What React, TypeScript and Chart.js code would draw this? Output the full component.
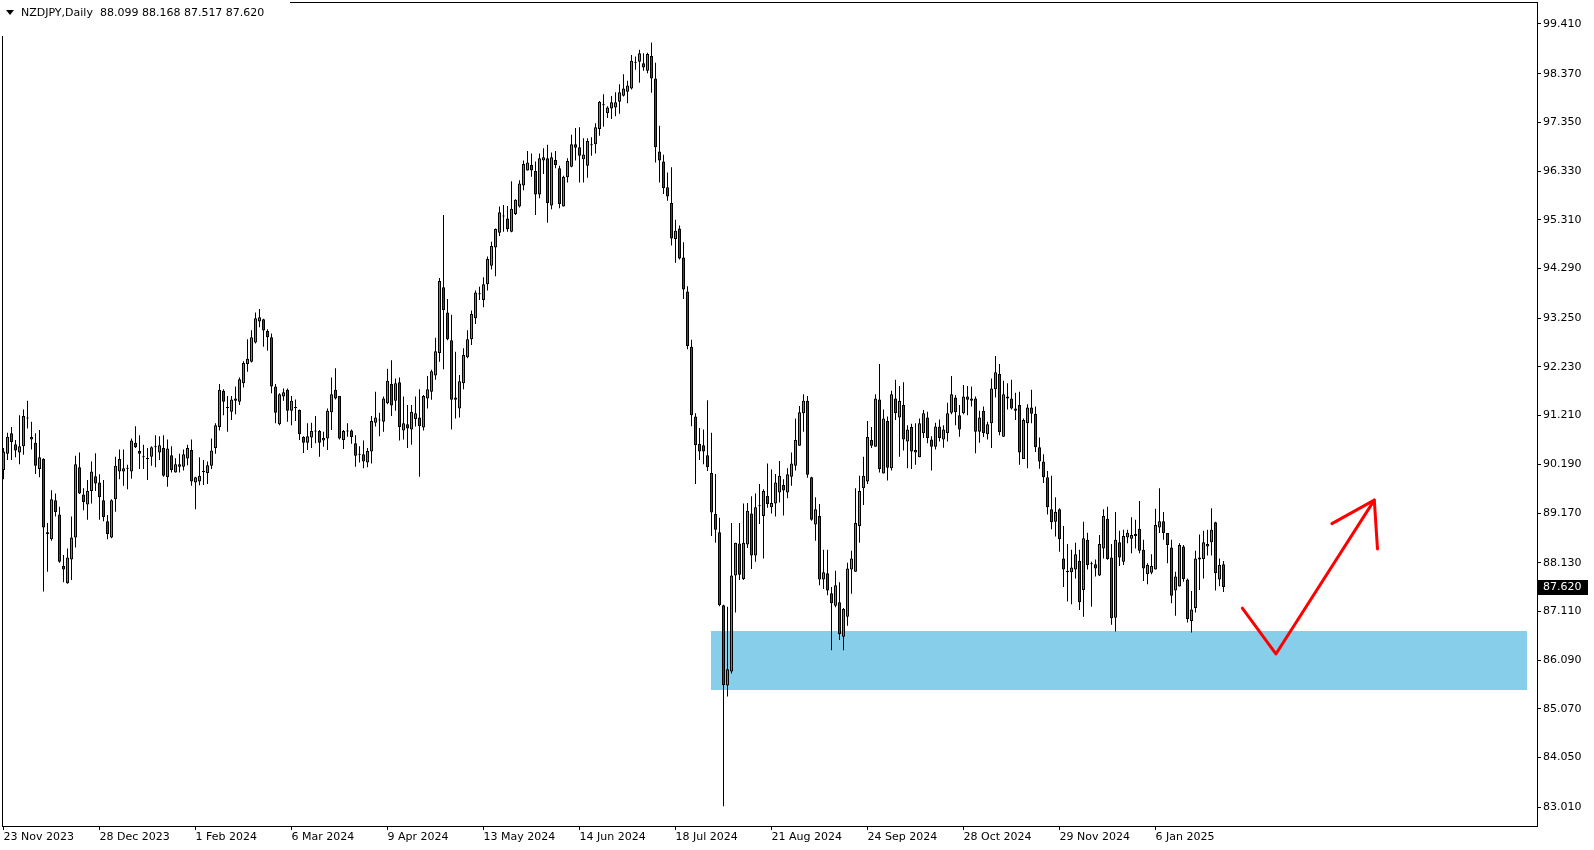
import React, { useEffect, useRef } from 'react';
import { Chart, registerables } from 'chart.js';

Chart.register(...registerables);

const symbolName = 'NZDJPY,Daily';

const opens = [
  90.07, 90.41, 90.84, 90.61, 90.44, 90.57, 91.16, 90.76, 90.64, 90.09,
  90.30, 88.77, 88.62, 89.44, 89.14, 88.06, 87.70, 88.20, 88.66, 90.13,
  89.56, 89.35, 89.63, 89.94, 89.81, 89.44, 89.00, 88.66, 89.46, 90.04,
  90.04, 90.10, 90.04, 90.64, 90.47, 90.36, 90.32, 90.35, 90.55, 90.44,
  90.53, 89.92, 90.38, 90.02, 90.14, 90.14, 90.31, 90.49, 89.81, 89.83,
  90.03, 90.01, 90.16, 90.53, 90.97, 91.73, 91.37, 91.29, 91.52, 91.50,
  91.89, 92.29, 92.34, 92.74, 93.18, 93.23, 92.98, 92.85, 91.82, 91.03,
  91.61, 91.75, 91.31, 91.37, 91.33, 90.77, 90.64, 90.75, 90.88, 90.89,
  90.69, 90.73, 91.28, 91.75, 91.62, 90.70, 90.88, 90.90, 90.63, 90.39,
  90.40, 90.23, 90.46, 91.06, 91.11, 91.08, 91.47, 91.87, 91.52, 91.91,
  90.90, 91.03, 90.92, 91.14, 91.17, 90.96, 91.57, 91.71, 92.05, 92.52,
  93.90, 93.37, 92.79, 91.54, 91.36, 91.89, 92.43, 92.81, 93.25, 93.75,
  93.63, 93.96, 94.35, 94.73, 95.04, 95.38, 95.34, 95.06, 95.43, 95.59,
  96.03, 96.34, 96.46, 96.33, 95.84, 96.55, 96.60, 95.61, 96.56, 96.39,
  95.59, 96.20, 96.42, 96.89, 96.83, 96.58, 96.44, 96.87, 96.89, 97.21,
  97.71, 97.54, 97.64, 97.66, 97.78, 97.91, 97.99, 98.06, 98.60, 98.62,
  98.59, 98.43, 98.74, 98.27, 96.74, 96.53, 95.99, 95.66, 94.91, 95.13,
  94.52, 93.81, 92.65, 91.19, 90.62, 90.59, 90.38, 90.01, 89.15, 88.77,
  87.24, 85.56, 85.85, 87.86, 88.53, 87.79, 88.51, 89.16, 88.28, 89.31,
  89.11, 89.53, 89.29, 89.37, 89.60, 89.76, 89.60, 89.93, 90.16, 90.58,
  91.26, 91.52, 89.92, 88.93, 89.11, 87.78, 87.91, 87.49, 87.23, 87.30,
  86.58, 87.00, 87.99, 87.94, 88.90, 89.69, 89.83, 90.70, 90.56, 91.55,
  90.00, 91.10, 90.11, 91.57, 91.17, 91.43, 90.67, 90.97, 90.44, 90.34,
  90.84, 91.17, 90.71, 90.56, 90.98, 90.71, 90.84, 91.27, 91.59, 91.22,
  91.26, 91.61, 91.52, 91.57, 90.87, 91.31, 90.82, 91.05, 91.76, 92.08,
  90.77, 91.57, 91.57, 91.36, 91.43, 90.30, 91.05, 91.38, 91.25, 90.55,
  90.25, 89.92, 89.25, 88.99, 89.25, 88.22, 87.96, 87.93, 87.99, 88.17,
  87.56, 88.61, 88.11, 88.10, 87.86, 88.43, 89.05, 88.24, 86.98, 88.56,
  88.15, 88.66, 88.63, 88.69, 88.84, 88.40, 87.89, 87.92, 87.99, 88.87,
  89.00, 88.75, 88.45, 87.55, 87.63, 88.47, 87.78, 86.91, 87.18, 88.20,
  88.21, 88.47, 88.56, 88.98, 87.78, 88.099,
];

const highs = [
  90.53, 90.85, 90.97, 90.70, 91.22, 91.34, 91.52, 91.08, 90.84, 90.91,
  90.32, 88.96, 89.65, 89.58, 89.30, 88.29, 88.43, 89.10, 90.37, 90.44,
  89.69, 89.86, 90.25, 90.42, 89.98, 89.86, 89.13, 89.46, 90.35, 90.50,
  90.50, 90.18, 90.73, 90.99, 90.80, 90.60, 90.53, 90.57, 90.80, 90.78,
  90.80, 90.71, 90.57, 90.32, 90.41, 90.50, 90.60, 90.71, 89.93, 90.34,
  90.28, 90.25, 90.73, 91.05, 91.87, 91.76, 91.62, 91.62, 91.82, 92.01,
  92.35, 92.81, 93.00, 93.37, 93.44, 93.24, 93.02, 92.93, 91.87, 91.68,
  91.78, 91.78, 91.62, 91.55, 91.34, 90.78, 91.05, 91.06, 91.20, 90.91,
  90.87, 91.36, 92.01, 92.20, 91.62, 90.91, 91.05, 90.92, 90.80, 90.57,
  90.69, 90.53, 91.20, 91.71, 91.27, 91.61, 92.19, 92.37, 91.99, 92.01,
  91.61, 91.43, 91.43, 91.61, 91.76, 91.64, 92.04, 92.17, 92.84, 94.09,
  95.41, 93.65, 93.32, 92.55, 92.06, 92.62, 93.00, 93.41, 93.83, 93.91,
  94.11, 94.54, 94.85, 95.13, 95.59, 95.62, 95.60, 96.12, 95.74, 96.14,
  96.55, 96.75, 96.70, 96.53, 96.70, 96.81, 96.88, 96.72, 96.75, 96.44,
  96.23, 96.60, 97.09, 97.23, 97.25, 97.02, 97.02, 97.04, 97.33, 97.80,
  97.94, 97.69, 97.90, 97.98, 98.15, 98.36, 98.22, 98.76, 98.73, 98.87,
  98.80, 98.81, 99.02, 98.60, 97.28, 96.67, 96.30, 96.41, 95.31, 95.19,
  94.84, 93.92, 92.80, 91.26, 90.95, 90.92, 91.53, 90.85, 89.99, 89.07,
  87.25, 87.21, 88.96, 88.55, 88.96, 89.37, 89.38, 89.52, 89.58, 89.78,
  89.67, 90.21, 90.08, 89.99, 90.26, 89.88, 90.11, 90.44, 91.15, 91.41,
  91.66, 91.62, 89.93, 89.50, 89.36, 88.40, 88.40, 87.62, 87.96, 87.72,
  87.18, 88.13, 88.38, 89.69, 89.95, 90.35, 91.10, 90.97, 91.66, 92.29,
  91.34, 91.19, 91.73, 91.96, 91.83, 91.91, 91.01, 91.04, 91.05, 91.15,
  91.33, 91.29, 90.78, 91.06, 91.13, 91.01, 91.48, 92.04, 91.64, 91.43,
  91.85, 91.83, 91.82, 91.61, 91.31, 91.40, 91.08, 91.99, 92.46, 92.29,
  91.94, 91.89, 91.96, 91.69, 91.71, 91.15, 91.45, 91.75, 91.40, 90.75,
  90.40, 90.05, 89.95, 89.50, 89.27, 88.90, 88.52, 88.40, 88.55, 88.40,
  88.99, 88.76, 88.15, 88.20, 88.71, 89.25, 89.30, 88.52, 89.19, 88.80,
  88.82, 88.82, 89.08, 89.03, 89.42, 88.61, 88.12, 88.31, 89.26, 89.69,
  89.19, 88.75, 88.61, 87.94, 88.54, 88.50, 87.80, 87.54, 88.38, 88.72,
  88.80, 88.82, 89.27, 88.99, 88.22, 88.168,
];

const lows = [
  89.88, 90.28, 90.28, 90.34, 90.19, 90.39, 90.94, 90.50, 89.99, 89.92,
  87.53, 87.94, 88.59, 89.10, 88.13, 87.72, 87.69, 87.77, 88.45, 89.57,
  89.23, 89.03, 89.37, 89.63, 89.03, 89.00, 88.62, 88.64, 89.20, 89.88,
  89.74, 89.67, 89.89, 90.53, 90.09, 90.09, 89.86, 90.16, 90.13, 90.28,
  89.93, 89.72, 90.02, 90.02, 90.02, 90.06, 90.17, 89.74, 89.25, 89.75,
  89.76, 89.78, 90.09, 90.41, 90.90, 91.22, 90.87, 91.12, 91.24, 91.43,
  91.80, 92.13, 92.32, 92.72, 93.06, 92.65, 92.57, 91.68, 91.05, 91.01,
  91.52, 91.08, 91.01, 91.10, 90.70, 90.43, 90.49, 90.53, 90.63, 90.35,
  90.56, 90.49, 90.91, 91.55, 90.71, 90.51, 90.77, 90.62, 90.14, 90.23,
  90.11, 90.13, 90.21, 90.98, 90.78, 90.87, 91.45, 91.20, 91.31, 90.69,
  90.71, 90.53, 90.60, 90.98, 89.93, 90.90, 91.36, 91.54, 91.96, 92.34,
  92.18, 92.79, 90.92, 91.15, 91.17, 91.76, 92.41, 92.69, 93.13, 93.63,
  93.48, 93.83, 94.27, 94.13, 94.97, 95.06, 95.06, 95.05, 95.41, 95.57,
  95.93, 96.34, 96.21, 95.41, 95.76, 96.27, 95.25, 95.53, 96.39, 95.55,
  95.59, 96.09, 96.41, 96.55, 96.09, 96.09, 96.19, 96.65, 96.70, 97.07,
  97.26, 97.44, 97.42, 97.48, 97.53, 97.89, 97.75, 98.04, 98.45, 98.18,
  98.43, 98.38, 97.97, 96.51, 96.09, 95.85, 95.71, 94.77, 94.41, 94.48,
  93.65, 92.60, 90.99, 89.78, 90.28, 90.19, 90.05, 88.69, 88.55, 87.22,
  83.03, 85.33, 85.81, 87.09, 87.77, 87.77, 88.44, 88.00, 88.15, 88.94,
  88.22, 89.28, 89.16, 89.10, 89.39, 89.12, 89.48, 89.74, 90.06, 90.58,
  90.87, 89.91, 89.01, 88.59, 87.66, 87.58, 87.45, 86.30, 87.20, 86.51,
  86.30, 86.81, 87.48, 87.94, 88.55, 89.34, 89.78, 90.53, 90.56, 90.02,
  90.00, 89.85, 90.06, 91.12, 90.35, 90.48, 90.11, 90.09, 90.18, 90.34,
  90.74, 90.63, 90.06, 90.50, 90.67, 90.54, 90.67, 91.24, 91.01, 90.77,
  91.24, 91.22, 91.40, 90.42, 90.64, 90.76, 90.71, 90.53, 91.59, 90.80,
  90.76, 91.34, 91.34, 91.12, 90.18, 90.30, 90.11, 91.05, 90.45, 90.10,
  89.80, 89.14, 88.83, 88.68, 88.36, 87.62, 87.32, 87.26, 87.80, 87.14,
  87.00, 87.99, 87.21, 87.84, 87.85, 88.22, 88.19, 86.83, 86.69, 88.06,
  88.08, 88.54, 88.33, 88.43, 88.33, 87.75, 87.68, 87.89, 87.99, 88.75,
  88.61, 88.12, 87.28, 87.02, 87.63, 87.73, 86.88, 86.67, 87.09, 87.56,
  87.80, 88.28, 88.28, 87.55, 87.64, 87.517,
];

const closes = [
  90.46, 90.77, 90.65, 90.48, 90.57, 91.20, 91.15, 90.71, 90.16, 90.34,
  88.87, 88.73, 89.46, 89.19, 88.15, 87.99, 88.24, 88.66, 90.19, 89.58,
  89.40, 89.63, 90.04, 89.79, 89.50, 89.08, 88.73, 89.44, 90.16, 90.30,
  90.11, 90.11, 90.69, 90.55, 90.41, 90.34, 90.30, 90.55, 90.57, 90.59,
  89.95, 90.52, 90.07, 90.19, 90.19, 90.40, 90.53, 89.83, 89.92, 89.95,
  90.04, 90.17, 90.48, 91.01, 91.75, 91.50, 91.38, 91.55, 91.57, 91.97,
  92.31, 92.40, 92.85, 93.25, 93.27, 92.99, 92.85, 91.82, 91.27, 91.66,
  91.70, 91.31, 91.52, 91.38, 90.82, 90.64, 90.78, 90.89, 90.90, 90.64,
  90.74, 91.31, 91.66, 91.57, 90.73, 90.89, 90.90, 90.76, 90.37, 90.41,
  90.25, 90.47, 91.10, 91.17, 91.13, 91.57, 91.94, 91.42, 91.89, 90.97,
  91.05, 90.94, 91.29, 91.26, 90.99, 91.62, 91.76, 92.14, 92.56, 94.03,
  93.42, 92.81, 91.54, 91.59, 91.93, 92.48, 92.81, 93.34, 93.79, 93.76,
  93.96, 94.49, 94.76, 95.12, 95.47, 95.40, 95.11, 95.54, 95.73, 96.07,
  96.48, 96.51, 96.34, 95.84, 96.60, 96.62, 95.66, 96.62, 96.46, 95.64,
  96.21, 96.54, 96.89, 96.82, 96.65, 96.68, 96.96, 96.88, 97.25, 97.78,
  97.73, 97.66, 97.77, 97.77, 97.98, 98.06, 98.12, 98.64, 98.61, 98.80,
  98.50, 98.78, 98.27, 96.83, 96.55, 95.97, 95.80, 94.92, 95.08, 94.50,
  93.85, 92.67, 91.22, 90.59, 90.46, 90.46, 90.13, 89.18, 88.82, 87.24,
  85.57, 85.90, 87.86, 88.55, 87.88, 88.55, 89.22, 88.28, 89.29, 89.33,
  89.63, 89.36, 89.38, 89.81, 89.95, 89.64, 89.98, 90.21, 90.70, 91.28,
  91.52, 89.97, 89.03, 89.25, 87.78, 87.93, 87.55, 87.28, 87.66, 86.64,
  87.16, 88.01, 88.22, 88.96, 89.63, 89.95, 90.76, 90.58, 91.57, 90.09,
  91.15, 90.12, 91.66, 91.26, 91.52, 90.71, 90.92, 90.46, 90.49, 91.05,
  91.26, 90.74, 90.56, 90.98, 90.74, 90.92, 91.26, 91.66, 91.28, 90.92,
  91.61, 91.54, 91.57, 90.87, 91.17, 90.84, 91.03, 91.78, 92.12, 90.86,
  91.66, 91.61, 91.36, 91.31, 90.44, 91.12, 91.38, 91.25, 90.55, 90.25,
  89.92, 89.29, 88.98, 89.19, 88.62, 87.99, 87.93, 88.03, 88.31, 87.30,
  88.64, 88.08, 88.10, 88.01, 88.52, 89.11, 88.21, 86.97, 88.61, 88.24,
  88.69, 88.76, 88.71, 88.73, 88.38, 88.01, 88.08, 88.06, 88.92, 89.00,
  88.75, 88.50, 87.44, 87.84, 88.50, 87.79, 86.95, 87.15, 88.22, 88.24,
  88.56, 88.52, 88.82, 87.91, 88.08, 87.620,
];

// time axis labels (bar index -> date)
const dateTickIndex = [0, 24, 48, 72, 96, 120, 144, 168, 192, 216, 240, 264, 288];
const dateTickLabels = [
  '23 Nov 2023', '28 Dec 2023', '1 Feb 2024', '6 Mar 2024', '9 Apr 2024',
  '13 May 2024', '14 Jun 2024', '18 Jul 2024', '21 Aug 2024', '24 Sep 2024',
  '28 Oct 2024', '29 Nov 2024', '6 Jan 2025',
];

const priceTicks = [
  99.41, 98.37, 97.35, 96.33, 95.31, 94.29, 93.25, 92.23, 91.21,
  90.19, 89.17, 88.13, 87.11, 86.09, 85.07, 84.05, 83.01,
];

// support zone (bar index range, price range)
const zoneIndex = [176.9, 380.8];
const zonePrice = [85.47, 86.70];

// hand drawn arrow
const arrowIndex = [309.7, 318.1, 342.7];
const arrowPrice = [87.18, 86.22, 89.44];
const arrowHeadIndex = [332.1, 342.7, 343.5];
const arrowHeadPrice = [88.95, 89.44, 88.42];

const UP_COLOR = '#1fc01f';
const DOWN_COLOR = '#cc1010';
const FONT = 'DejaVu Sans';

export default function App() {
  const ref = useRef<HTMLCanvasElement | null>(null);

  useEffect(() => {
    const canvas = ref.current;
    if (!canvas) return;
    const idx = closes.map((_, i) => i);
    const bodies = idx.map((i) => ({ x: i, y: [opens[i], closes[i]] }));
    const wicks = idx.map((i) => ({ x: i, y: [lows[i], highs[i]] }));
    const bodyColors = idx.map((i) => (closes[i] >= opens[i] ? UP_COLOR : DOWN_COLOR));
    const arrowData = arrowIndex.map((v, i) => ({ x: v, y: arrowPrice[i] }));
    const headData = arrowHeadIndex.map((v, i) => ({ x: v, y: arrowHeadPrice[i] }));
    const last = closes.length - 1;

    const overlay = {
      id: 'mtOverlay',
      beforeDatasetsDraw(chart: any) {
        const { ctx, scales } = chart;
        const xs = scales.x;
        const ys = scales.y;
        const x0 = xs.getPixelForValue(zoneIndex[0]);
        const x1 = xs.getPixelForValue(zoneIndex[1]);
        const y0 = ys.getPixelForValue(zonePrice[1]);
        const y1 = ys.getPixelForValue(zonePrice[0]);
        ctx.save();
        ctx.fillStyle = '#87ceeb';
        ctx.fillRect(Math.round(x0), Math.round(y0), Math.round(x1 - x0), Math.round(y1 - y0));
        ctx.restore();
      },
      afterDraw(chart: any) {
        const { ctx, chartArea, scales } = chart;
        const { left, right, top, bottom } = chartArea;
        ctx.save();
        ctx.strokeStyle = '#000';
        ctx.lineWidth = 1;
        ctx.strokeRect(left + 0.5, top + 0.5, right - left, bottom - top);
        // title block
        ctx.fillStyle = '#fff';
        ctx.fillRect(0, 0, 290, 36);
        ctx.fillStyle = '#000';
        ctx.beginPath();
        ctx.moveTo(6, 10);
        ctx.lineTo(14, 10);
        ctx.lineTo(10, 15);
        ctx.closePath();
        ctx.fill();
        ctx.font = `11px "${FONT}"`;
        ctx.textBaseline = 'middle';
        ctx.textAlign = 'left';
        const title = `${symbolName}  ${opens[last].toFixed(3)} ${highs[last].toFixed(3)} ${lows[last].toFixed(3)} ${closes[last].toFixed(3)}`;
        ctx.fillText(title, 21, 13);
        // current price tag
        const py = Math.round(scales.y.getPixelForValue(closes[last]));
        ctx.fillStyle = '#000';
        ctx.fillRect(right + 1, py - 7, 50, 15);
        ctx.fillStyle = '#fff';
        ctx.fillText(closes[last].toFixed(3), right + 6, py + 0.5);
        ctx.restore();
      },
    };

    const chart = new Chart(canvas, {
      type: 'bar',
      data: {
        datasets: [
          {
            type: 'line',
            data: arrowData,
            borderColor: '#ff0000',
            borderWidth: 3,
            pointRadius: 0,
            tension: 0,
            borderCapStyle: 'round',
            borderJoinStyle: 'round',
            order: 0,
          } as any,
          {
            type: 'line',
            data: headData,
            borderColor: '#ff0000',
            borderWidth: 3,
            pointRadius: 0,
            tension: 0,
            borderCapStyle: 'round',
            borderJoinStyle: 'round',
            order: 0,
          } as any,
          {
            type: 'bar',
            data: bodies,
            backgroundColor: bodyColors,
            borderColor: '#000',
            borderWidth: 1,
            borderSkipped: false,
            grouped: false,
            barThickness: 3,
            minBarLength: 1,
            inflateAmount: 0,
            order: 1,
          } as any,
          {
            type: 'bar',
            data: wicks,
            backgroundColor: '#000',
            borderWidth: 0,
            grouped: false,
            barThickness: 1,
            inflateAmount: 0,
            order: 2,
          } as any,
        ],
      },
      options: {
        responsive: false,
        animation: false,
        devicePixelRatio: 1,
        events: [],
        layout: { padding: { left: 2, top: 2, right: 0, bottom: 0 }, autoPadding: false },
        plugins: { legend: { display: false }, tooltip: { enabled: false } },
        scales: {
          x: {
            type: 'linear',
            min: -0.375,
            max: 383.375,
            offset: false,
            grid: { display: true, drawOnChartArea: false, drawTicks: true, tickLength: 4, color: '#000', offset: false },
            border: { display: false },
            afterBuildTicks: (axis: any) => {
              axis.ticks = dateTickIndex.map((v) => ({ value: v }));
            },
            afterFit: (axis: any) => {
              axis.height = 24;
              axis.paddingLeft = 0;
              axis.paddingRight = 0;
            },
            ticks: {
              autoSkip: false,
              maxRotation: 0,
              minRotation: 0,
              align: 'start',
              padding: 1,
              color: '#000',
              font: { family: FONT, size: 11 },
              callback: (value: any) => {
                const k = dateTickIndex.indexOf(Number(value));
                return k >= 0 ? dateTickLabels[k] : '';
              },
            },
          },
          y: {
            type: 'linear',
            position: 'right',
            min: 82.6176,
            max: 99.8706,
            grid: { display: true, drawOnChartArea: false, drawTicks: true, tickLength: 4, color: '#000' },
            border: { display: false },
            afterBuildTicks: (axis: any) => {
              axis.ticks = priceTicks.map((v) => ({ value: v }));
            },
            afterFit: (axis: any) => {
              axis.width = 57;
              axis.paddingTop = 0;
              axis.paddingBottom = 0;
            },
            ticks: {
              padding: 2,
              color: '#000',
              font: { family: FONT, size: 11 },
              callback: (value: any) => Number(value).toFixed(3),
            },
          },
        },
      } as any,
      plugins: [overlay],
    });
    return () => chart.destroy();
  }, []);

  return (
    <div style={{ position: 'fixed', left: 0, top: 0, width: 1594, height: 850, background: '#fff' }}>
      <canvas ref={ref} width={1594} height={850} style={{ display: 'block' }} />
    </div>
  );
}
